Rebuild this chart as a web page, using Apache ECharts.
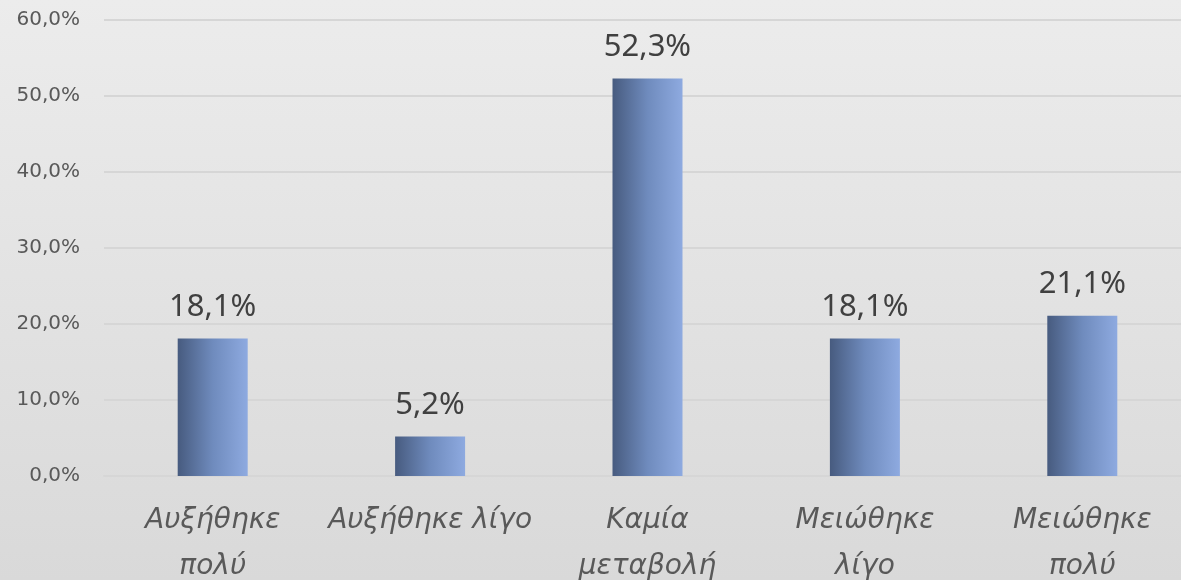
<!DOCTYPE html>
<html>
<head>
<meta charset="utf-8">
<script src="https://cdn.jsdelivr.net/npm/echarts@6/dist/echarts.min.js"></script>
<style>
  html, body { margin: 0; padding: 0; }
  #chart {
    width: 1181px;
    height: 580px;
    background: linear-gradient(to bottom, #ececec, #d9d9d9);
  }
</style>
</head>
<body>
<div id="chart"></div>
<script>
const categories = ["Αυξήθηκε\nπολύ", "Αυξήθηκε λίγο", "Καμία\nμεταβολή", "Μειώθηκε\nλίγο", "Μειώθηκε\nπολύ"];
const values = [18.1, 5.2, 52.3, 18.1, 21.1];
const yTicks = { min: 0, max: 60, interval: 10 };

const fmt = (v) => v.toFixed(1).replace(".", ",") + "%";

const chart = echarts.init(document.getElementById("chart"));
chart.setOption({
  animation: false,
  textStyle: { fontFamily: "Noto Sans" },
  grid: { left: 104, right: -10, top: 20, bottom: 104, containLabel: false, outerBoundsMode: "none" },
  xAxis: {
    type: "category",
    data: categories,
    axisLine: { show: true, lineStyle: { color: "#d6d6d6", width: 2 } },
    axisTick: { show: false },
    axisLabel: {
      color: "#595959",
      fontFamily: "DejaVu Sans",
      fontSize: 28,
      fontStyle: "italic",
      lineHeight: 46,
      margin: 22,
      interval: 0,
    },
  },
  yAxis: {
    type: "value",
    min: yTicks.min,
    max: yTicks.max,
    interval: yTicks.interval,
    axisLine: { show: false },
    axisTick: { show: false },
    splitLine: { lineStyle: { color: "#d6d6d6", width: 2 } },
    axisLabel: {
      color: "#595959",
      fontFamily: "DejaVu Sans",
      fontSize: 20,
      margin: 24,
      formatter: (v) => fmt(v),
    },
  },
  series: [
    {
      type: "bar",
      data: values,
      barWidth: 70,
      itemStyle: {
        color: new echarts.graphic.LinearGradient(0, 0, 1, 0, [
          { offset: 0, color: "#475b7f" },
          { offset: 0.5, color: "#6f8bbd" },
          { offset: 1, color: "#8eaae0" },
        ]),
      },
      label: {
        show: true,
        position: "top",
        distance: 16,
        color: "#404040",
        fontSize: 31,
        formatter: (p) => fmt(p.value),
      },
    },
  ],
});
</script>
</body>
</html>
